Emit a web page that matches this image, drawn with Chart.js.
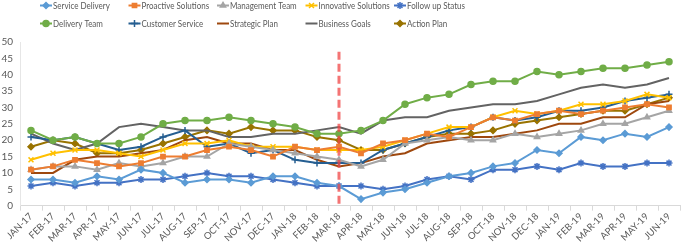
<!DOCTYPE html>
<html>
<head>
<meta charset="utf-8">
<script src="https://cdn.jsdelivr.net/npm/chart.js@4/dist/chart.umd.min.js"></script>
<style>
  html, body { margin: 0; padding: 0; background: #fff; }
  #wrap { width: 685px; height: 247px; }
</style>
</head>
<body>
<div id="wrap"><canvas id="myChart" width="685" height="247"></canvas></div>
<script>
// months on the x axis
const months = ['JAN-17','FEB-17','MAR-17','APR-17','MAY-17','JUN-17','JUL-17','AUG-17','SEP-17','OCT-17','NOV-17','DEC-17',
  'JAN-18','FEB-18','MAR-18','APR-18','MAY-18','JUN-18','JUL-18','AUG-18','SEP-18','OCT-18','NOV-18','DEC-18',
  'JAN-19','FEB-19','MAR-19','APR-19','MAY-19','JUN-19'];

// series values
const serviceDelivery    = [8,8,7,9,8,11,10,7,8,8,7,9,9,7,6,2,4,5,7,9,10,12,13,17,16,21,20,22,21,24];
const proactiveSolutions = [11,12,14,13,12,13,15,15,17,18,17,15,18,17,18,16,19,20,22,21,24,27,26,28,29,28,29,30,31,30];
const managementTeam     = [11,12,12,11,13,12,13,15,15,19,18,17,16,15,14,12,14,19,20,21,20,20,22,21,22,23,25,25,27,29];
const innovativeSolutions= [14,16,17,17,16,15,17,19,19,20,18,18,18,17,17,17,18,20,22,24,24,27,29,28,29,31,31,32,34,33];
const followUpStatus     = [6,7,6,7,7,8,8,9,10,9,9,8,7,6,6,6,5,6,8,9,8,11,11,12,11,13,12,12,13,13];
const deliveryTeam       = [23,20,21,19,19,21,25,26,26,27,26,25,24,22,22,23,26,31,33,34,37,38,38,41,40,41,42,42,43,44];
const customerService    = [21,20,21,19,17,18,21,23,18,19,16,17,14,13,13,13,17,19,21,23,24,27,26,27,29,29,30,32,33,34];
const strategicPlan      = [10,10,14,15,15,16,17,20,21,19,19,17,17,14,12,13,15,16,19,20,21,21,22,23,25,25,27,27,31,32];
const businessGoals      = [22,19,17,19,24,25,24,23,23,21,21,22,22,23,24,22,26,27,27,29,30,31,31,32,34,36,37,36,37,39];
const actionPlan         = [18,20,19,16,16,17,19,21,23,22,24,23,23,21,20,17,17,19,21,22,22,23,25,26,27,28,29,29,31,33];

// vertical marker
const markerMonth = 'MAR-18';
const markerTop = 47;

const FONT = "Lato, 'Liberation Sans', sans-serif";
const TXT = '#595959';

function series(label, data, color, style, radius) {
  return {
    label: label,
    data: data,
    borderColor: color,
    backgroundColor: color,
    pointBackgroundColor: color,
    pointBorderColor: color,
    pointStyle: style,
    pointRadius: radius,
    pointHoverRadius: radius,
    pointBorderWidth: 1.5,
    borderWidth: 2,
    tension: 0
  };
}

const datasets = [
  series('Service Delivery', serviceDelivery, '#5B9BD5', 'rectRot', 3),
  series('Proactive Solutions', proactiveSolutions, '#ED7D31', 'rect', 3),
  series('Management Team', managementTeam, '#A5A5A5', 'triangle', 3),
  series('Innovative Solutions', innovativeSolutions, '#FFC000', 'crossRot', 3.5),
  series('Follow up Status', followUpStatus, '#4472C4', 'star', 3.5),
  series('Delivery Team', deliveryTeam, '#70AD47', 'circle', 3),
  series('Customer Service', customerService, '#255E91', 'cross', 3.5),
  series('Strategic Plan', strategicPlan, '#9E480E', 'circle', 0),
  series('Business Goals', businessGoals, '#636363', 'circle', 0),
  series('Action Plan', actionPlan, '#997300', 'rectRot', 3)
];

// legend drawn in a fixed grid, 5 per row (text squeezed a bit, like Calibri)
const gridLegend = {
  id: 'gridLegend',
  afterDraw(chart) {
    const ctx = chart.ctx;
    ctx.save();
    ctx.font = '10px ' + FONT;
    ctx.textBaseline = 'middle';
    chart.data.datasets.forEach((ds, i) => {
      const x = 40 + (i % 5) * 88.5;
      const y = 5.5 + Math.floor(i / 5) * 18;
      ctx.strokeStyle = ds.borderColor;
      ctx.fillStyle = ds.borderColor;
      ctx.lineWidth = 2;
      ctx.beginPath();
      ctx.moveTo(x, y);
      ctx.lineTo(x + 12, y);
      ctx.stroke();
      if (ds.pointRadius > 0 && Chart.helpers && Chart.helpers.drawPoint) {
        ctx.lineWidth = 1.5;
        Chart.helpers.drawPoint(ctx, { pointStyle: ds.pointStyle, radius: ds.pointRadius, rotation: 0, borderWidth: 1.5 }, x + 6, y);
      }
      ctx.fillStyle = TXT;
      const w = ctx.measureText(ds.label).width;
      ctx.fillText(ds.label, x + 13, y + 0.5, w * 0.8);
    });
    ctx.restore();
  }
};

// red dashed line at the marker month
const markerLine = {
  id: 'markerLine',
  afterDatasetsDraw(chart) {
    const xs = chart.scales.x, ys = chart.scales.y;
    const x = xs.getPixelForValue(months.indexOf(markerMonth));
    const ctx = chart.ctx;
    ctx.save();
    ctx.strokeStyle = 'rgba(240,70,70,0.75)';
    ctx.lineWidth = 3;
    ctx.setLineDash([8, 4]);
    ctx.beginPath();
    ctx.moveTo(x, ys.getPixelForValue(markerTop));
    ctx.lineTo(x, ys.getPixelForValue(0));
    ctx.stroke();
    ctx.restore();
  }
};

window.addEventListener('load', setup);
function setup() {
  const ctx = document.getElementById('myChart').getContext('2d');
  new Chart(ctx, {
    type: 'line',
    data: { labels: months, datasets: datasets },
    options: {
      responsive: false,
      animation: false,
      layout: { padding: { top: 42, right: 1, left: 0, bottom: 3 } },
      plugins: {
        legend: { display: false },
        tooltip: { enabled: false }
      },
      scales: {
        x: {
          offset: true,
          grid: { display: true, drawOnChartArea: false, offset: true, tickLength: 5, color: '#d9d9d9' },
          border: { display: true, color: '#d9d9d9' },
          ticks: { color: TXT, font: { family: FONT, size: 9.5 }, minRotation: 45, maxRotation: 45, autoSkip: false, padding: 0 },
          // let the first rotated label hang off the left like the original
          afterFit(scale) { scale.paddingLeft = 0; }
        },
        y: {
          min: 0,
          max: 50,
          grid: { display: false, drawTicks: false },
          border: { display: true, color: '#e6e6e6' },
          ticks: { stepSize: 5, color: TXT, font: { family: FONT, size: 10 }, padding: 7 },
          afterFit(scale) { scale.width = 20; }
        }
      }
    },
    plugins: [gridLegend, markerLine]
  });
}
</script>
</body>
</html>
